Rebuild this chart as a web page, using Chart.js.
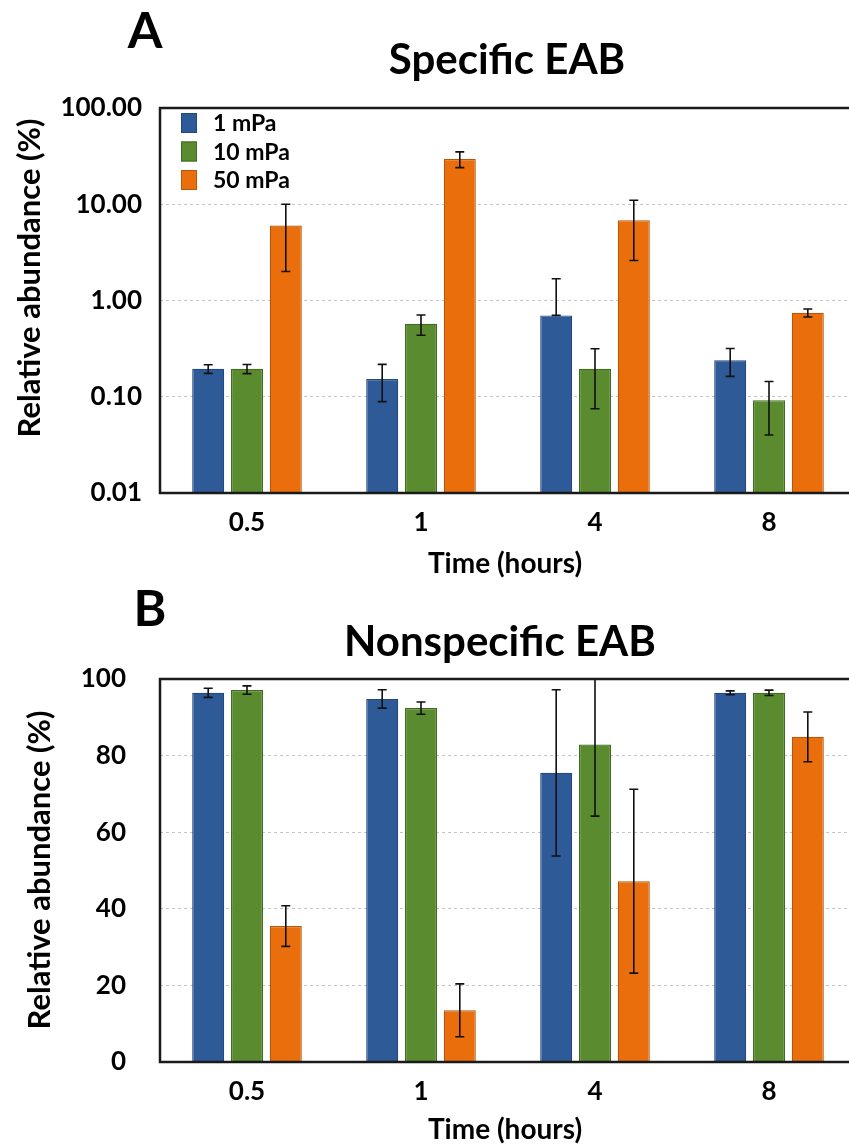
<!DOCTYPE html>
<html>
<head>
<meta charset="utf-8">
<script src="https://cdn.jsdelivr.net/npm/chart.js@4.4.0/dist/chart.umd.min.js"></script>
<style>
  html, body { margin: 0; padding: 0; background: #fff; overflow: hidden; width: 849px; height: 1144px; }
  canvas { display: block; }
</style>
</head>
<body>
<canvas id="chartA" width="870" height="580"></canvas>
<canvas id="chartB" width="870" height="564"></canvas>
<script>
// === DATA ===
const timeLabels = ['0.5', '1', '4', '8'];
const seriesNames = ['1 mPa', '10 mPa', '50 mPa'];

// Specific EAB (log axis), mean and SD
const specific1 = [0.195, 0.153, 0.70, 0.24];
const specific10 = [0.195, 0.572, 0.195, 0.092];
const specific50 = [6.0, 29.5, 6.8, 0.745];
const specificSd1 = [0.02, 0.064, 0.98, 0.077];
const specificSd10 = [0.021, 0.136, 0.12, 0.052];
const specificSd50 = [4.0, 5.5, 4.2, 0.072];
const specificTicks = [0.01, 0.1, 1, 10, 100];

// Nonspecific EAB (linear axis), mean and SD
const nonspec1 = [96.4, 94.8, 75.5, 96.4];
const nonspec10 = [97.1, 92.4, 82.9, 96.4];
const nonspec50 = [35.5, 13.5, 47.2, 84.9];
const nonspecSd1 = [1.2, 2.4, 21.7, 0.5];
const nonspecSd10 = [1.1, 1.6, 18.7, 0.7];
const nonspecSd50 = [5.3, 6.9, 24.0, 6.5];

const FONT = 'Lato, "Open Sans", sans-serif';
const fills = ['#2e5a97', '#5a8b2f', '#ea6f0c'];
const edges = ['#22487d', '#416b20', '#b8560a'];

// === PLUGIN: error bars, frame, legend, titles ===
const panelDecor = {
  id: 'panelDecor',
  afterDatasetsDraw(chart, args, opts) {
    const ctx = chart.ctx;
    const area = chart.chartArea;
    const yScale = chart.scales.y;
    ctx.save();
    ctx.beginPath();
    ctx.rect(area.left, area.top - 1, area.right - area.left, area.bottom - area.top + 2);
    ctx.clip();
    ctx.strokeStyle = '#111';
    ctx.lineWidth = 1.6;
    chart.data.datasets.forEach((ds, i) => {
      const meta = chart.getDatasetMeta(i);
      meta.data.forEach((bar, j) => {
        const v = ds.data[j], s = ds.sd[j];
        let lo = v - s;
        if (lo <= 0 && yScale.type === 'logarithmic') lo = v;
        const yHi = yScale.getPixelForValue(v + s);
        const yLo = yScale.getPixelForValue(lo);
        ctx.beginPath();
        ctx.moveTo(bar.x, yHi); ctx.lineTo(bar.x, yLo);
        ctx.moveTo(bar.x - 4.5, yHi); ctx.lineTo(bar.x + 4.5, yHi);
        ctx.moveTo(bar.x - 4.5, yLo); ctx.lineTo(bar.x + 4.5, yLo);
        ctx.stroke();
      });
    });
    ctx.restore();

    // plot frame
    ctx.save();
    ctx.strokeStyle = '#1a1a1a';
    ctx.lineWidth = 2.5;
    ctx.strokeRect(area.left, area.top, area.right - area.left, area.bottom - area.top);
    ctx.restore();
  },
  afterDraw(chart, args, opts) {
    const ctx = chart.ctx;
    ctx.save();
    ctx.fillStyle = '#000';
    ctx.textAlign = 'center';
    ctx.textBaseline = 'middle';

    ctx.font = 'bold 50px ' + FONT;
    ctx.fillText(opts.letter.text, opts.letter.x, opts.letter.y);

    ctx.font = 'bold 42px ' + FONT;
    ctx.fillText(opts.title.text, opts.title.x, opts.title.y);

    ctx.font = 'bold 28px ' + FONT;
    ctx.fillText(opts.xTitle.text, opts.xTitle.x, opts.xTitle.y);

    ctx.save();
    ctx.translate(opts.yTitle.x, opts.yTitle.y);
    ctx.rotate(-Math.PI / 2);
    ctx.font = 'bold 31px ' + FONT;
    ctx.fillText(opts.yTitle.text, 0, 0);
    ctx.restore();

    if (opts.legend) {
      ctx.textAlign = 'left';
      ctx.font = 'bold 23px ' + FONT;
      chart.data.datasets.forEach((ds, i) => {
        const cy = opts.legend.y + i * opts.legend.step;
        ctx.fillStyle = ds.backgroundColor;
        ctx.fillRect(opts.legend.x, cy - 10, 16, 20);
        ctx.strokeStyle = ds.borderColor;
        ctx.lineWidth = 1;
        ctx.strokeRect(opts.legend.x + 0.5, cy - 9.5, 15, 19);
        ctx.fillStyle = '#000';
        ctx.fillText(ds.label, opts.legend.x + 32, cy + 1);
      });
    }
    ctx.restore();
  }
};

function makeDatasets(values, sds) {
  return values.map((vals, i) => ({
    label: seriesNames[i],
    data: vals,
    sd: sds[i],
    backgroundColor: fills[i],
    borderColor: edges[i],
    borderWidth: 1.2,
    categoryPercentage: 0.669,
    barPercentage: 0.825
  }));
}

function makePanel(id, datasets, yOpts, plotTop, plotBottom, tickPad, decor) {
  const canvas = document.getElementById(id);
  return new Chart(canvas.getContext('2d'), {
    type: 'bar',
    data: { labels: timeLabels, datasets: datasets },
    options: {
      responsive: false,
      animation: false,
      layout: { padding: { top: plotTop, right: 14, left: 0, bottom: 0 } },
      plugins: {
        legend: { display: false },
        tooltip: { enabled: false },
        panelDecor: decor
      },
      scales: {
        x: {
          grid: { display: false, drawTicks: false },
          border: { display: false },
          ticks: { color: '#000', padding: 14, font: { family: FONT, size: 26, weight: 'bold' } },
          afterFit(scale) { scale.height = canvas.height - plotBottom; }
        },
        y: Object.assign({
          grid: { color: '#c4c4c4', lineWidth: 1, drawTicks: false },
          border: { display: false, dash: [3, 3] },
          afterFit(scale) { scale.width = 160; }
        }, yOpts, {
          ticks: Object.assign({ color: '#000', padding: tickPad, autoSkip: false,
            font: { family: FONT, size: 26, weight: 'bold' } }, yOpts.ticks || {})
        })
      }
    },
    plugins: [panelDecor]
  });
}

// === PANEL A: Specific EAB ===
makePanel('chartA',
  makeDatasets([specific1, specific10, specific50], [specificSd1, specificSd10, specificSd50]),
  {
    type: 'logarithmic',
    min: 0.01,
    max: 100,
    afterBuildTicks(scale) { scale.ticks = specificTicks.map(v => ({ value: v, major: true })); },
    ticks: { callback: v => Number(v).toFixed(2) }
  },
  108, 493, 18,
  {
    letter: { text: 'A', x: 145, y: 32 },
    title: { text: 'Specific EAB', x: 507, y: 60 },
    yTitle: { text: 'Relative abundance (%)', x: 30, y: 278 },
    xTitle: { text: 'Time (hours)', x: 505, y: 564 },
    legend: { x: 181, y: 123, step: 28.5 }
  }
);

// === PANEL B: Nonspecific EAB ===
makePanel('chartB',
  makeDatasets([nonspec1, nonspec10, nonspec50], [nonspecSd1, nonspecSd10, nonspecSd50]),
  {
    type: 'linear',
    min: 0,
    max: 100,
    ticks: { stepSize: 20 }
  },
  99, 482, 34,
  {
    letter: { text: 'B', x: 150, y: 30 },
    title: { text: 'Nonspecific EAB', x: 500, y: 62 },
    yTitle: { text: 'Relative abundance (%)', x: 40, y: 290 },
    xTitle: { text: 'Time (hours)', x: 505, y: 550 }
  }
);
</script>
</body>
</html>
